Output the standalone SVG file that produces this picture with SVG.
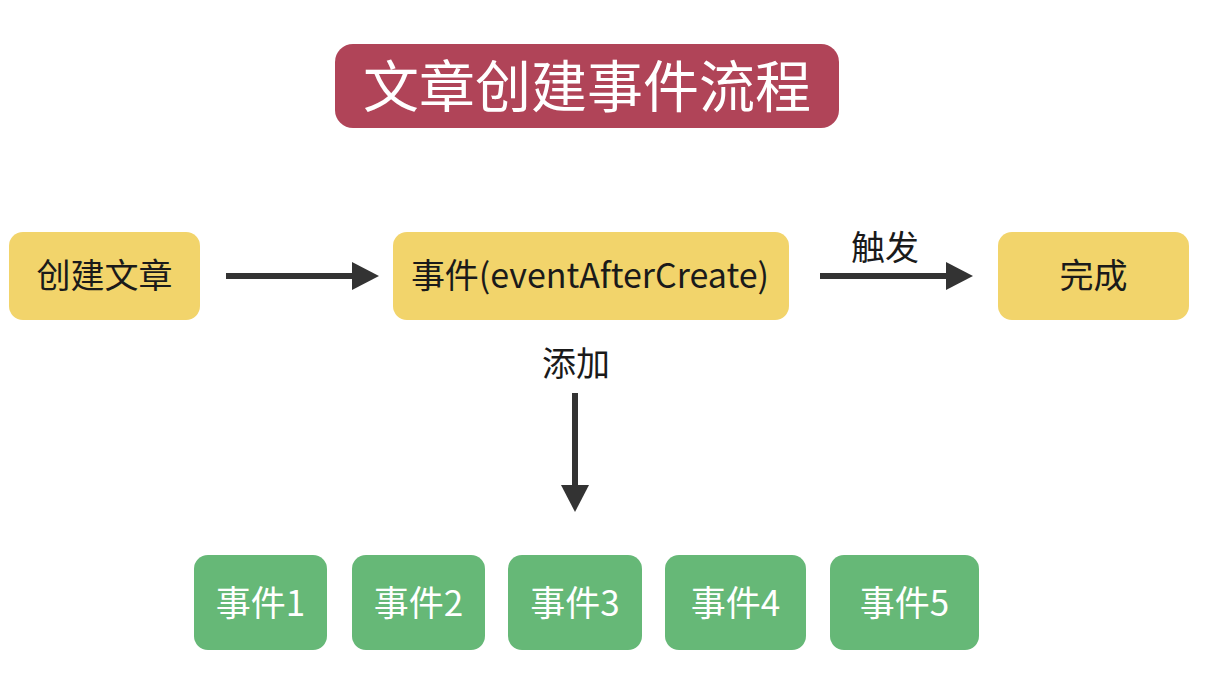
<svg xmlns="http://www.w3.org/2000/svg" width="1208" height="690" viewBox="0 0 1208 690">
<style>
.t{font-family:"Noto Sans CJK SC","Noto Sans",sans-serif;text-anchor:middle}
.y{fill:#f2d46b}
.g{fill:#66b877}
.dk{fill:#1a1a1a;font-size:34px}
.wt{fill:#ffffff;font-size:35px}
.ln{stroke:#333333;stroke-width:6;fill:none}
</style>
<defs>
<marker id="ah" markerUnits="userSpaceOnUse" markerWidth="28" markerHeight="28" refX="0" refY="14" orient="auto" viewBox="0 0 28 28">
<path d="M0,0 L27,14 L0,28 Z" fill="#333333"/>
</marker>
</defs>
<rect width="1208" height="690" fill="#ffffff"/>
<g id="title">
<rect x="335" y="44" width="504" height="84" rx="18" fill="#b04458"/>
<text class="t" x="587" y="107" fill="#ffffff" font-size="56">文章创建事件流程</text>
</g>
<g id="create">
<rect class="y" x="9" y="232" width="191" height="88" rx="14"/>
<text class="t dk" x="104.5" y="288">创建文章</text>
</g>
<g id="event">
<rect class="y" x="393" y="232" width="396" height="88" rx="14"/>
<text class="t dk" x="590" y="288">事件(eventAfterCreate)</text>
</g>
<g id="done">
<rect class="y" x="998" y="232" width="191" height="88" rx="14"/>
<text class="t dk" x="1093.5" y="288">完成</text>
</g>
<g id="e1"><rect class="g" x="194" y="555" width="133" height="95" rx="14"/><text class="t wt" x="260.5" y="616">事件1</text></g>
<g id="e2"><rect class="g" x="352" y="555" width="133" height="95" rx="14"/><text class="t wt" x="418.5" y="616">事件2</text></g>
<g id="e3"><rect class="g" x="508" y="555" width="134" height="95" rx="14"/><text class="t wt" x="575" y="616">事件3</text></g>
<g id="e4"><rect class="g" x="665" y="555" width="141" height="95" rx="14"/><text class="t wt" x="735.5" y="616">事件4</text></g>
<g id="e5"><rect class="g" x="830" y="555" width="149" height="95" rx="14"/><text class="t wt" x="904.5" y="616">事件5</text></g>
<g id="connectors">
<line class="ln" x1="226" y1="276" x2="352" y2="276" marker-end="url(#ah)"/>
<line class="ln" x1="820" y1="276" x2="946" y2="276" marker-end="url(#ah)"/>
<text class="t dk" x="885" y="260">触发</text>
<line class="ln" x1="575" y1="393" x2="575" y2="485" marker-end="url(#ah)"/>
<text class="t dk" x="576" y="376">添加</text>
</g>
</svg>
